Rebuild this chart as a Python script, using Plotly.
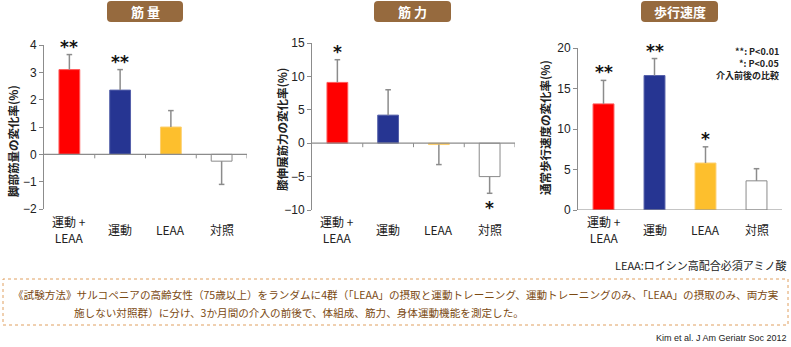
import plotly.graph_objects as go

W, H = 791, 347

categories = ["運動 +<br>LEAA", "運動", "LEAA", "対照"]
bar_colors = ["#ff0000", "#263592", "#fdbf2d", "#ffffff"]
line_colors = ["#ff5a5a", "#5560aa", "#fdd070", "#8a8a8a"]

# panel 1: 筋量
muscle_vals = [3.1, 2.35, 1.0, -0.25]
muscle_err = [3.65, 3.1, 1.6, -1.1]
muscle_sig = ["**", "**", "", ""]
# panel 2: 筋力
strength_vals = [9.1, 4.2, -0.2, -5.0]
strength_err = [12.5, 8.0, -3.2, -7.5]
strength_sig = ["*", "", "", "*"]
# panel 3: 歩行速度
walk_vals = [13.1, 16.6, 5.8, 3.6]
walk_err = [16.0, 18.7, 7.8, 5.1]
walk_sig = ["**", "**", "*", ""]

panels = [
    dict(title="筋 量", ytitle="脚部筋量の変化率(%)", vals=muscle_vals, err=muscle_err, sig=muscle_sig,
         rng=[-2, 4], dtick=1, xpx=(44, 247), ypx=(45, 209), badge=(107, 183), ytx=13, ytc=141),
    dict(title="筋 力", ytitle="膝伸展筋力の変化率(%)", vals=strength_vals, err=strength_err, sig=strength_sig,
         rng=[-10, 15], dtick=5, xpx=(312, 515), ypx=(43, 210), badge=(374, 451), ytx=282, ytc=130),
    dict(title="歩行速度", ytitle="通常歩行速度の変化率(%)", vals=walk_vals, err=walk_err, sig=walk_sig,
         rng=[0, 20], dtick=5, xpx=(578, 782), ypx=(48, 210), badge=(641, 718), ytx=545, ytc=128),
]

def px(x):
    return x / W

def py(y):
    return 1 - y / H

fig = go.Figure()
shapes = []
annotations = []
AX = "#8c8c8c"
TXT = "#222222"
CJK = "Noto Sans CJK JP"

def note(x, y, text, size, color=TXT, family=CJK, xanchor="center", **kw):
    d = dict(xref="paper", yref="paper", x=px(x), y=py(y), text=text, showarrow=False,
             xanchor=xanchor, yanchor="middle", font=dict(family=family, size=size, color=color))
    d.update(kw)
    annotations.append(d)

for k, p in enumerate(panels):
    n = "" if k == 0 else str(k + 1)
    xa, ya = "x" + n, "y" + n
    xs = list(range(len(categories)))
    fig.add_trace(go.Bar(
        x=xs, y=p["vals"], width=0.41, xaxis=xa, yaxis=ya,
        marker=dict(color=bar_colors, line=dict(color=line_colors, width=1)),
        showlegend=False, hoverinfo="skip"))
    # error bars (one-sided) from data
    ex, ey = [], []
    cap = 0.055
    for i, (v, e) in enumerate(zip(p["vals"], p["err"])):
        ex += [i, i, None, i - cap, i + cap, None]
        ey += [v, e, None, e, e, None]
    fig.add_trace(go.Scatter(x=ex, y=ey, mode="lines", xaxis=xa, yaxis=ya,
                             line=dict(color=AX, width=1.5), showlegend=False, hoverinfo="skip"))
    fig.layout["xaxis" + n] = dict(
        domain=[px(p["xpx"][0]), px(p["xpx"][1])], range=[-0.5, 3.5], anchor=ya,
        tickvals=xs, showticklabels=False, showline=False, showgrid=False, zeroline=False,
        ticks="", automargin=False, fixedrange=True)
    fig.layout["yaxis" + n] = dict(
        domain=[py(p["ypx"][1]), py(p["ypx"][0])], range=p["rng"], dtick=p["dtick"], anchor=xa,
        showline=True, linecolor=AX, linewidth=1, ticks="outside", ticklen=4, tickcolor=AX,
        showgrid=False, zeroline=False, automargin=False,
        tickfont=dict(family="Liberation Sans", size=12, color=TXT), fixedrange=True)
    # category labels (vertically centred under each group)
    for i, c in enumerate(categories):
        annotations.append(dict(xref=xa, yref="paper", x=i, y=py(229.5), text=c, showarrow=False,
                                xanchor="center", yanchor="middle",
                                font=dict(family=CJK, size=12, color=TXT)))
    # zero baseline with category-boundary ticks
    shapes.append(dict(type="line", xref=xa, yref=ya, x0=-0.5, x1=3.5, y0=0, y1=0,
                       line=dict(color=AX, width=1.2)))
    for b in [0.5, 1.5, 2.5, 3.5]:
        shapes.append(dict(type="line", xref=xa, yref=ya, x0=b, x1=b, ysizemode="pixel",
                           yanchor=0, y0=0, y1=-4, line=dict(color=AX, width=1)))
    # significance stars
    for i, s in enumerate(p["sig"]):
        if s:
            up = p["err"][i] >= 0
            annotations.append(dict(xref=xa, yref=ya, x=i, y=p["err"][i], text="<b>" + s + "</b>",
                                    showarrow=False, yshift=8 if up else -15,
                                    xanchor="center", yanchor="middle",
                                    font=dict(family="DejaVu Sans", size=17, color="#111")))
    # y-axis title
    note(p["ytx"], p["ytc"], "<b>" + p["ytitle"] + "</b>", 11.5, textangle=-90)
    # badge (rounded rect)
    x0, x1 = p["badge"]
    y0, y1 = 1, 22
    r = 4
    path = (f"M {px(x0 + r)},{py(y0)} L {px(x1 - r)},{py(y0)} Q {px(x1)},{py(y0)} {px(x1)},{py(y0 + r)} "
            f"L {px(x1)},{py(y1 - r)} Q {px(x1)},{py(y1)} {px(x1 - r)},{py(y1)} "
            f"L {px(x0 + r)},{py(y1)} Q {px(x0)},{py(y1)} {px(x0)},{py(y1 - r)} "
            f"L {px(x0)},{py(y0 + r)} Q {px(x0)},{py(y0)} {px(x0 + r)},{py(y0)} Z")
    shapes.append(dict(type="path", xref="paper", yref="paper", path=path,
                       fillcolor="#966a3e", line=dict(width=0), layer="below"))
    note((x0 + x1) / 2, 11.5, "<b>" + p["title"] + "</b>", 13, color="white")

# significance legend (panel 3)
for t, yy in [("<b>**: P<0.01</b>", 52), ("<b>*: P<0.05</b>", 63.5), ("<b>介入前後の比較</b>", 75)]:
    note(781, yy, t, 9, xanchor="right")

note(789, 265, "LEAA:ロイシン高配合必須アミノ酸", 11, xanchor="right")

# method box
shapes.append(dict(type="rect", xref="paper", yref="paper", x0=px(3), x1=px(788), y0=py(325), y1=py(279),
                   line=dict(color="#e0a060", width=1, dash="dot")))
BR = "#7b4a12"
note(11, 294, "《試験方法》サルコペニアの高齢女性（75歳以上）をランダムに4群（「LEAA」の摂取と運動トレーニング、運動トレーニングのみ、「LEAA」の摂取のみ、両方実",
     10.6, color=BR, xanchor="left")
note(72, 312, "施しない対照群）に分け、3か月間の介入の前後で、体組成、筋力、身体運動機能を測定した。",
     10.6, color=BR, xanchor="left")
note(789, 338, "Kim et al. J Am Geriatr Soc 2012", 9, family="Liberation Sans", xanchor="right")

fig.update_layout(width=W, height=H, margin=dict(l=0, r=0, t=0, b=0, autoexpand=False),
                  paper_bgcolor="white", plot_bgcolor="white",
                  shapes=shapes, annotations=annotations, bargap=0.5)
fig.write_html("out.html", config=dict(displayModeBar=False))
